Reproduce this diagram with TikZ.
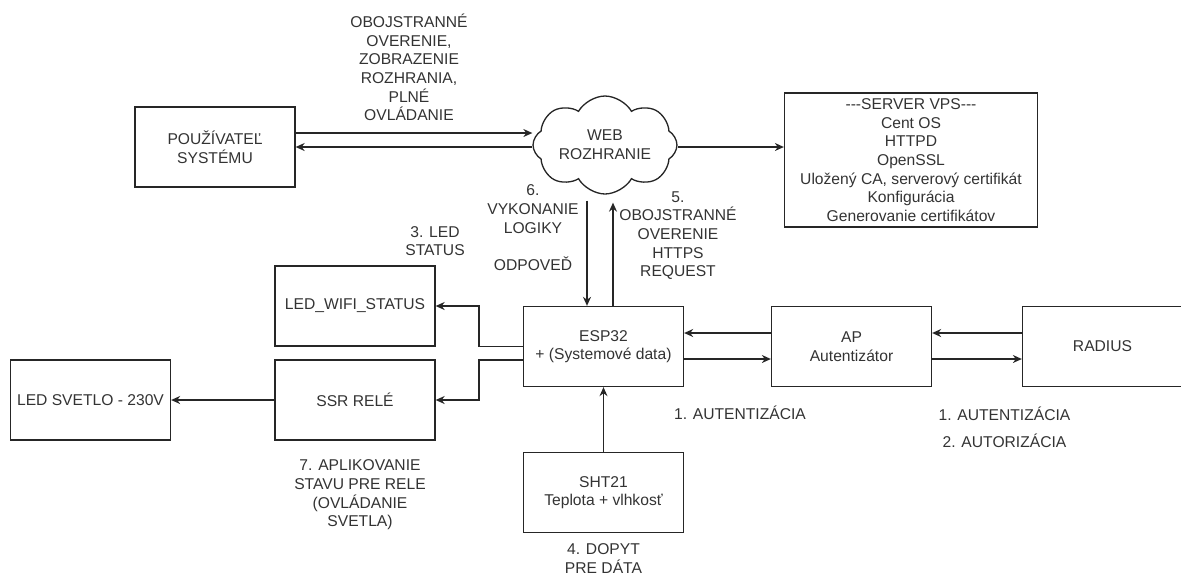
\documentclass[tikz,border=0pt]{standalone}
\usepackage{fontspec}
\setmainfont{Liberation Sans}
\usetikzlibrary{shapes.symbols,arrows.meta}
\begin{document}
\begin{tikzpicture}[x=0.02cm, y=-0.02cm,
                        every node/.style={
                            font=\fontsize{8.9pt}{10.6pt}\selectfont,
                            text=black!80
                        },
                        box/.style={
                            draw=black!85,
                            line width=0.75pt,
                            minimum width=3.2cm,
                            minimum height=1.6cm,
                            inner sep=0pt,
                            align=center
                        },
                        webcloud/.style={
                            draw=black!85,
                            line width=0.75pt,
                            cloud,
                            cloud puffs=8,
                            cloud puff arc=120,
                            cloud ignores aspect,
                            minimum width=2.88cm,
                            minimum height=1.96cm,
                            inner sep=0pt,
                            align=center
                        },
                        lbl/.style={
                            align=center,
                            inner sep=0pt
                        },
                        arr/.style={
                            draw=black!85,
                            line width=0.75pt,
                            -{Stealth[length=0.18cm, width=0.16cm]}
                        }
                    ]

                    \useasboundingbox (0,0) rectangle (1181,576);

                    % User and web interface (top row)
                    \node[box] (user) at (215,147) {POUŽÍVATEĽ\\SYSTÉMU};
                    \node[webcloud] (web) at (605,145) {WEB\\ROZHRANIE};
                    \node[box,
                        minimum width=5.06cm,
                        minimum height=2.68cm
                    ] (server) at (911,160)
                        {{-}{-}{-}SERVER VPS{-}{-}{-}\\Cent OS\\HTTPD\\OpenSSL\\Uložený CA, serverový certifikát\\Konfigurácia\\Generovanie certifikátov};

                    % Device chain (middle row)
                    \node[box] (ledwifi) at (355,306) {LED\_WIFI\_STATUS};
                    \node[box] (ssr) at (355,400) {SSR RELÉ};
                    \node[box] (ledsvetlo) at (90.5,400) {LED SVETLO - 230V};
                    \node[box] (esp) at (603.5,346.5) {ESP32\\+ (Systemové data)};
                    \node[box] (ap) at (851.5,346.5) {AP\\Autentizátor};
                    \node[box] (radius) at (1102.5,346.5) {RADIUS};

                    % Sensor (bottom)
                    \node[box] (sht) at (603.5,492.5) {SHT21\\Teplota + vlhkosť};

                    % Labels
                    \node[lbl] (lblweb) at (409,67.5)
                        {OBOJSTRANNÉ\\OVERENIE,\\ZOBRAZENIE\\ROZHRANIA,\\PLNÉ\\OVLÁDANIE};
                    \node[lbl] (lbllogic) at (533,209) {6.\\VYKONANIE\\LOGIKY};
                    \node[lbl] (lblanswer) at (533,264) {ODPOVEĎ};
                    \node[lbl] (lblstatus) at (435,241) {3. LED\\STATUS};
                    \node[lbl] (lblhttps) at (678,235.5)
                        {5.\\OBOJSTRANNÉ\\OVERENIE\\HTTPS\\REQUEST};
                    \node[lbl] (lblrelay) at (360,495)
                        {7. APLIKOVANIE\\STAVU PRE RELE\\(OVLÁDANIE\\SVETLA)};
                    \node[lbl] (lblquery) at (603.5,558.5) {4. DOPYT\\PRE DÁTA};
                    \node[lbl] (lblauth) at (740,413) {1. AUTENTIZÁCIA};
                    \node[lbl] (lblradius) at (1004.5,427)
                        {1. AUTENTIZÁCIA\\[4.7pt]2. AUTORIZÁCIA};

                    % Connectors
                    \draw[arr] (user.east |- 0,133) -- (web.west |- 0,133);
                    \draw[arr] (web.west |- 0,147) -- (user.east |- 0,147);
                    \draw[arr] (web.east |- 0,147) -- (server.west |- 0,147);

                    \draw[arr, shorten <=0.12cm] ([xshift=-0.33cm]esp.north |- web.south)
                        -- ([xshift=-0.33cm]esp.north);
                    \draw[arr, shorten >=0.16cm] ([xshift=0.19cm]esp.north)
                        -- ([xshift=0.19cm]esp.north |- web.south);

                    \draw[arr] ([yshift=0.27cm]ap.west) -- ([yshift=0.27cm]esp.east);
                    \draw[arr] ([yshift=-0.25cm]esp.east) -- ([yshift=-0.25cm]ap.west);
                    \draw[arr] ([yshift=0.27cm]radius.west) -- ([yshift=0.27cm]ap.east);
                    \draw[arr] ([yshift=-0.25cm]ap.east) -- ([yshift=-0.25cm]radius.west);

                    \draw[arr] (sht.north) -- (esp.south);
                    \draw[arr] (esp.west) -- ++(-44,0) |- (ledwifi.east);
                    \draw[arr] ([yshift=-0.27cm]esp.west) -- ++(-44,0) |- (ssr.east);
                    \draw[arr] (ssr.west) -- (ledsvetlo.east);
                    \end{tikzpicture}
\end{document}
